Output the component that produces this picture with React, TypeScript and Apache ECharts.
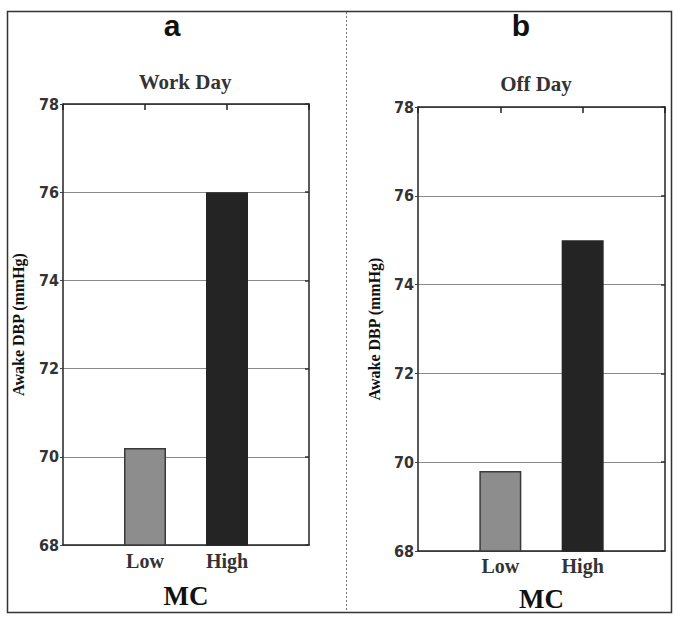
import React, { useEffect, useRef } from "react";
import * as echarts from "echarts";

// MC groups on the x axis
const categories = ["Low", "High"];
// Awake diastolic blood pressure (mmHg) by MC group
const workDayValues = [70.2, 76.0];
const offDayValues = [69.8, 75.0];
// y axis range and step
const yMin = 68;
const yMax = 78;
const yStep = 2;

const SERIF = "'Liberation Serif', 'DejaVu Serif', serif";
const SANS = "'Liberation Sans', Arial, sans-serif";
const NARROW = "'Liberation Sans Narrow', 'DejaVu Sans Condensed', 'Liberation Sans', sans-serif";

const barFills = ["#8d8d8d", "#242424"];
const barBorders = ["#3a3a3a", "#242424"];

// padded category list so the two bars sit at 1/3 and 2/3 of the panel width
const axisCategories = ["", ...categories, ""];

function panelAxes(gridIndex: number, labelMargin: number, nameGap: number, yNameGap: number) {
  const xAxes = [
    {
      type: "category",
      gridIndex,
      data: axisCategories,
      boundaryGap: false,
      axisLine: { show: true, lineStyle: { color: "#222", width: 1.5 } },
      axisTick: { show: false },
      axisLabel: {
        margin: labelMargin,
        fontFamily: SERIF,
        fontWeight: "bold",
        fontSize: 20,
        color: "#333",
      },
      splitLine: { show: false },
      name: "MC",
      nameLocation: "middle",
      nameGap,
      nameTextStyle: { fontFamily: SERIF, fontWeight: "bold", fontSize: 27, color: "#111" },
    },
    {
      type: "category",
      gridIndex,
      position: "top",
      data: axisCategories,
      boundaryGap: false,
      axisLine: { show: true, lineStyle: { color: "#222", width: 1.5 } },
      axisTick: { show: true, inside: true, length: 6, lineStyle: { color: "#222", width: 1.5 } },
      axisLabel: { show: false },
      splitLine: { show: false },
    },
  ];
  const yAxes = [
    {
      type: "value",
      gridIndex,
      min: yMin,
      max: yMax,
      interval: yStep,
      axisLine: { show: true, lineStyle: { color: "#222", width: 1.5 } },
      axisTick: { show: true, length: 3, lineStyle: { color: "#444" } },
      axisLabel: {
        margin: 4,
        fontFamily: NARROW,
        fontWeight: "bold",
        fontSize: 16,
        color: "#333",
      },
      splitLine: { show: true, lineStyle: { color: "#8a8a8a", width: 1 } },
      name: "Awake DBP (mmHg)",
      nameLocation: "middle",
      nameGap: yNameGap,
      nameRotate: 90,
      nameTextStyle: { fontFamily: SERIF, fontWeight: "bold", fontSize: 16, color: "#111" },
    },
    {
      type: "value",
      gridIndex,
      position: "right",
      min: yMin,
      max: yMax,
      interval: yStep,
      axisLine: { show: true, lineStyle: { color: "#222", width: 1.5 } },
      axisTick: { show: true, inside: true, length: 4, lineStyle: { color: "#333", width: 1.5 } },
      axisLabel: { show: false },
      splitLine: { show: false },
    },
  ];
  return { xAxes, yAxes };
}

function barSeries(values: number[], xAxisIndex: number, yAxisIndex: number) {
  return {
    type: "bar",
    xAxisIndex,
    yAxisIndex,
    barWidth: 42,
    clip: true,
    data: [
      null,
      ...values.map((v, i) => ({
        value: v,
        itemStyle: { color: barFills[i], borderColor: barBorders[i], borderWidth: 1.5 },
      })),
      null,
    ],
  };
}

export default function App() {
  const ref = useRef<HTMLDivElement>(null);

  useEffect(() => {
    if (!ref.current) return;
    const chart = echarts.init(ref.current, null, { renderer: "svg" });

    const a = panelAxes(0, 6, 37, 37);
    const b = panelAxes(1, 5, 34, 36);

    chart.setOption({
      animation: false,
      backgroundColor: "#fff",
      grid: [
        { left: 63, top: 104, width: 246, height: 441 },
        { left: 418, top: 107, width: 247, height: 444 },
      ],
      xAxis: [...a.xAxes, ...b.xAxes],
      yAxis: [...a.yAxes, ...b.yAxes],
      series: [barSeries(workDayValues, 0, 0), barSeries(offDayValues, 2, 2)],
      graphic: [
        {
          type: "rect",
          shape: { x: 7.5, y: 11.5, width: 664, height: 601 },
          style: { fill: "none", stroke: "#333", lineWidth: 1.5 },
          silent: true,
        },
        {
          type: "line",
          shape: { x1: 346.5, y1: 12, x2: 346.5, y2: 612 },
          style: { stroke: "#777", lineWidth: 1, lineDash: [2, 2] },
          silent: true,
        },
        {
          type: "text",
          x: 172,
          y: 25,
          style: {
            text: "a",
            fontFamily: SANS,
            fontWeight: "bold",
            fontSize: 30,
            fill: "#111",
            align: "center",
            verticalAlign: "middle",
          },
        },
        {
          type: "text",
          x: 521,
          y: 25,
          style: {
            text: "b",
            fontFamily: SANS,
            fontWeight: "bold",
            fontSize: 30,
            fill: "#111",
            align: "center",
            verticalAlign: "middle",
          },
        },
        {
          type: "text",
          x: 185,
          y: 82,
          style: {
            text: "Work Day",
            fontFamily: SERIF,
            fontWeight: "bold",
            fontSize: 21,
            fill: "#333",
            align: "center",
            verticalAlign: "middle",
          },
        },
        {
          type: "text",
          x: 536,
          y: 84,
          style: {
            text: "Off Day",
            fontFamily: SERIF,
            fontWeight: "bold",
            fontSize: 21,
            fill: "#333",
            align: "center",
            verticalAlign: "middle",
          },
        },
      ],
    });

    return () => chart.dispose();
  }, []);

  return <div ref={ref} style={{ width: 674, height: 628, position: "absolute", left: 0, top: 0 }} />;
}
